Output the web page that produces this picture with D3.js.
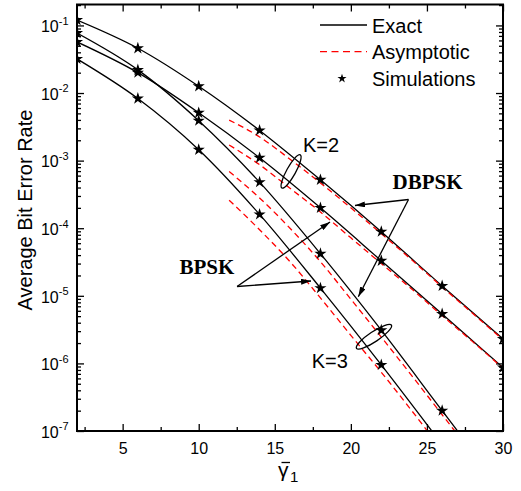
<!DOCTYPE html>
<html><head><meta charset="utf-8">
<script src="https://cdn.jsdelivr.net/npm/d3@7"></script>
<style>body{margin:0;background:#fff}svg{display:block}</style>
</head><body><svg id="c" width="521" height="491"></svg>
<script>
// ---------- data ----------
const snrSim = [2, 6, 10, 14, 18, 22, 26, 30];
const exactDbpskK2 = [0.12, 0.046, 0.0126, 2.8e-3, 5.2e-4, 8.9e-5, 1.4e-5, 2.3e-6];
const exactBpskK2  = [0.057, 0.020, 5.1e-3, 1.1e-3, 2.0e-4, 3.3e-5, 5.4e-6, 8.7e-7];
const exactDbpskK3 = [0.077, 0.022, 3.9e-3, 4.8e-4, 4.2e-5, 3.1e-6, 2.0e-7, 1.3e-8];
const exactBpskK3  = [0.032, 0.0083, 1.45e-3, 1.6e-4, 1.3e-5, 9.5e-7, 6.3e-8, 4e-9];

const snrAsym = [12, 14, 16, 18, 20, 22, 24, 26, 28, 30];
const asymDbpskK2 = [3.98e-3, 2.24e-3, 1.05e-3, 4.68e-4, 2.0e-4, 8.3e-5, 3.4e-5, 1.35e-5, 5.5e-6, 2.24e-6];
const asymBpskK2  = [1.7e-3, 8.7e-4, 3.9e-4, 1.74e-4, 7.2e-5, 3.0e-5, 1.26e-5, 5.1e-6, 2.1e-6, 8.5e-7];
const asymDbpskK3 = [6.9e-4, 2.8e-4, 1.0e-4, 3.2e-5, 8.9e-6, 2.45e-6, 6.6e-7, 1.74e-7, 4.6e-8, 1.2e-8];
const asymBpskK3  = [2.6e-4, 9.5e-5, 3.2e-5, 9.3e-6, 2.6e-6, 7.4e-7, 2.0e-7, 5.2e-8, 1.4e-8, 3.6e-9];

const xTickValues = [5, 10, 15, 20, 25, 30];
const xMinorValues = [2.5, 7.5, 12.5, 17.5, 22.5, 27.5];
const yTickExponents = [-7, -6, -5, -4, -3, -2, -1];
const legendLabels = ["Exact", "Asymptotic", "Simulations"];

// ---------- setup ----------
const svg = d3.select("#c");
const L = 77, R = 503, T = 4.5, B = 431;
const x = d3.scaleLinear().domain([2, 30]).range([L, R]);
const y = d3.scaleLog().domain([1e-7, 0.204]).range([B, T]);

svg.append("rect").attr("width", 521).attr("height", 491).attr("fill", "#fff");
svg.append("defs").append("clipPath").attr("id", "clip")
  .append("rect").attr("x", L).attr("y", T).attr("width", R - L).attr("height", B - T);
const defs = svg.select("defs");
defs.append("marker").attr("id", "arr").attr("viewBox", "0 0 10 6")
  .attr("refX", 10).attr("refY", 3).attr("markerWidth", 10).attr("markerHeight", 6)
  .attr("markerUnits", "userSpaceOnUse").attr("orient", "auto")
  .append("path").attr("d", "M0,0 L10,3 L0,6 Z").attr("fill", "#000");

const sans = "Liberation Sans, Arial, Helvetica, sans-serif";
const serif = "Liberation Serif, Times New Roman, serif";

// minor y ticks
const yMinor = [];
for (let e = -7; e <= -1; e++) for (let k = 2; k <= 9; k++) { const v = k * Math.pow(10, e); if (v <= 0.204) yMinor.push(v); }

// axes
function styleAxis(g) { g.select(".domain").remove(); g.selectAll("line").attr("stroke", "#000").attr("stroke-width", 1.3); }
svg.append("g").attr("transform", `translate(0,${B})`)
  .call(d3.axisBottom(x).tickValues(xTickValues).tickSizeInner(-7).tickSizeOuter(0).tickFormat(d3.format("d")))
  .call(styleAxis)
  .call(g => g.selectAll("text").attr("y", 23).attr("dy", 0).attr("font-family", sans).attr("font-size", 16).attr("fill", "#000"));
svg.append("g").attr("transform", `translate(0,${B})`)
  .call(d3.axisBottom(x).tickValues(xMinorValues).tickSizeInner(-4).tickSizeOuter(0).tickFormat(""))
  .call(styleAxis);
svg.append("g").attr("transform", `translate(0,${T})`)
  .call(d3.axisTop(x).tickValues(xTickValues).tickSizeInner(-7).tickSizeOuter(0).tickFormat(""))
  .call(styleAxis);
svg.append("g").attr("transform", `translate(0,${T})`)
  .call(d3.axisTop(x).tickValues(xMinorValues).tickSizeInner(-4).tickSizeOuter(0).tickFormat(""))
  .call(styleAxis);

const yMajor = yTickExponents.map(e => Math.pow(10, e));
svg.append("g").attr("transform", `translate(${L},0)`)
  .call(d3.axisLeft(y).tickValues(yMajor).tickSizeInner(-7).tickSizeOuter(0).tickFormat(""))
  .call(styleAxis)
  .call(g => g.selectAll(".tick").each(function(d, i) {
    const t = d3.select(this).append("text").attr("x", -8.5).attr("y", 0).attr("dy", 6.3)
      .attr("text-anchor", "end").attr("font-family", sans).attr("fill", "#000");
    t.append("tspan").attr("font-size", 16).text("10");
    t.append("tspan").attr("font-size", 11).attr("dy", -7.5).text(String(yTickExponents[i]));
  }));
svg.append("g").attr("transform", `translate(${L},0)`)
  .call(d3.axisLeft(y).tickValues(yMinor).tickSizeInner(-4).tickSizeOuter(0).tickFormat(""))
  .call(styleAxis);
svg.append("g").attr("transform", `translate(${R},0)`)
  .call(d3.axisRight(y).tickValues(yMajor).tickSizeInner(-7).tickSizeOuter(0).tickFormat(""))
  .call(styleAxis);
svg.append("g").attr("transform", `translate(${R},0)`)
  .call(d3.axisRight(y).tickValues(yMinor).tickSizeInner(-4).tickSizeOuter(0).tickFormat(""))
  .call(styleAxis);

// ---------- curves ----------
const plot = svg.append("g").attr("clip-path", "url(#clip)");
const line = d3.line().x(d => x(d[0])).y(d => y(d[1])).curve(d3.curveMonotoneX);
const exactSeries = [exactDbpskK2, exactBpskK2, exactDbpskK3, exactBpskK3];
const asymSeries = [asymDbpskK2, asymBpskK2, asymDbpskK3, asymBpskK3];

exactSeries.forEach(s => {
  plot.append("path").datum(snrSim.map((v, i) => [v, s[i]]))
    .attr("d", line).attr("fill", "none").attr("stroke", "#000").attr("stroke-width", 1.3);
});
asymSeries.forEach(s => {
  plot.append("path").datum(snrAsym.map((v, i) => [v, s[i]]))
    .attr("d", line).attr("fill", "none").attr("stroke", "#ff0000").attr("stroke-width", 1.3)
    .attr("stroke-dasharray", "6,4");
});
const star = d3.symbol(d3.symbolStar, 46);
exactSeries.forEach(s => {
  plot.selectAll(null).data(snrSim.map((v, i) => [v, s[i]]).filter(d => d[1] >= 1e-7 * 0.9))
    .enter().append("path").attr("d", star)
    .attr("transform", d => `translate(${x(d[0])},${y(d[1])})`).attr("fill", "#000");
});

// frame
svg.append("rect").attr("x", L).attr("y", T).attr("width", R - L).attr("height", B - T)
  .attr("fill", "none").attr("stroke", "#000").attr("stroke-width", 2);

// ---------- annotations ----------
function ellipse(cx, cy, rx, ry, ang) {
  svg.append("ellipse").attr("cx", 0).attr("cy", 0).attr("rx", rx).attr("ry", ry)
    .attr("transform", `translate(${x(cx)},${y(cy)}) rotate(${ang})`)
    .attr("fill", "none").attr("stroke", "#000").attr("stroke-width", 1.3);
}
ellipse(16.07, Math.pow(10, -3.16), 19, 4.5, -61);
ellipse(21.52, Math.pow(10, -5.605), 21, 5, -33.7);

svg.append("text").attr("x", x(16.85)).attr("y", y(Math.pow(10, -2.873)))
  .attr("font-family", sans).attr("font-size", 20).text("K=2");
svg.append("text").attr("x", x(17.43)).attr("y", y(Math.pow(10, -6.068)))
  .attr("font-family", sans).attr("font-size", 20).text("K=3");
svg.append("text").attr("x", x(22.74)).attr("y", y(Math.pow(10, -3.427)))
  .attr("font-family", serif).attr("font-weight", "bold").attr("font-size", 21).text("DBPSK");
svg.append("text").attr("x", x(8.74)).attr("y", y(Math.pow(10, -4.670)))
  .attr("font-family", serif).attr("font-weight", "bold").attr("font-size", 21).text("BPSK");

function arrow(x0, l0, x1, l1) {
  svg.append("line").attr("x1", x(x0)).attr("y1", y(Math.pow(10, l0)))
    .attr("x2", x(x1)).attr("y2", y(Math.pow(10, l1)))
    .attr("stroke", "#000").attr("stroke-width", 1.3).attr("marker-end", "url(#arr)");
}
arrow(23.79, -3.575, 20.27, -3.664);
arrow(23.79, -3.575, 20.49, -5.013);
arrow(12.52, -4.862, 18.63, -3.908);
arrow(12.52, -4.862, 17.38, -4.781);

// ---------- axis titles ----------
svg.append("text").attr("transform", "translate(31.5,210) rotate(-90)")
  .attr("text-anchor", "middle").attr("font-family", sans).attr("font-size", 20).text("Average Bit Error Rate");
svg.append("text").attr("x", 278).attr("y", 477).attr("font-family", sans).attr("font-size", 21).text("γ");
svg.append("text").attr("x", 290).attr("y", 482).attr("font-family", sans).attr("font-size", 15).text("1");
svg.append("line").attr("x1", 281.5).attr("x2", 290).attr("y1", 462.5).attr("y2", 462.5)
  .attr("stroke", "#000").attr("stroke-width", 1.3);

// ---------- legend ----------
const lg = svg.append("g");
const rows = [25, 51.7, 78.5];
lg.append("line").attr("x1", 320).attr("x2", 367).attr("y1", rows[0]).attr("y2", rows[0]).attr("stroke", "#000").attr("stroke-width", 1.3);
lg.append("line").attr("x1", 320).attr("x2", 367).attr("y1", rows[1]).attr("y2", rows[1]).attr("stroke", "#ff0000").attr("stroke-width", 1.3).attr("stroke-dasharray", "7,4.5");
lg.append("path").attr("d", d3.symbol(d3.symbolStar, 26)).attr("transform", `translate(342,${rows[2]})`).attr("fill", "#000");
legendLabels.forEach((t, i) => {
  lg.append("text").attr("x", 372).attr("y", rows[i] + 7.5).attr("font-family", sans).attr("font-size", 20).text(t);
});
</script></body></html>
